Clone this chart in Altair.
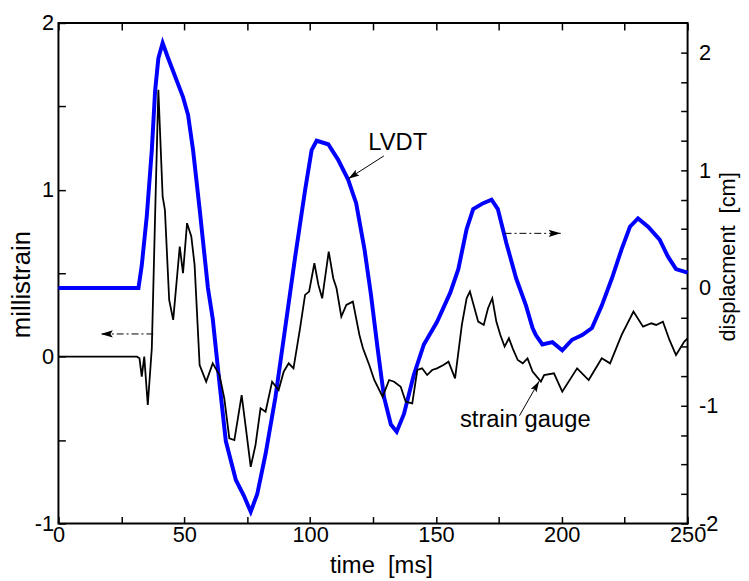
import altair as alt
import pandas as pd

FONT = "Liberation Sans"

# ---- strain gauge (left axis, millistrain) ----
sg_time = [0, 31.2, 32.2, 33.1, 34.1, 35.5, 37.1, 38.4, 39.7, 41.4,
           42.3, 44.0, 45.6, 48.2, 49.5, 51.1, 52.8, 54.1, 56.1, 58.7,
           61.3, 64.0, 65.9, 67.9, 69.9, 72.8, 74.4, 76.4, 78.3, 80.3,
           82.3, 84.9, 87.5, 89.5, 91.5, 93.4, 96.0, 98.0, 99.6, 101.7,
           103.3, 104.8, 107.4, 109.2, 110.5, 112.4, 114.4, 117.0, 119.6, 121.0,
           123.5, 125.5, 128.8, 131.4, 133.4, 136.0, 138.0, 140.6, 142.6, 144.5,
           146.5, 148.5, 150.4, 153.0, 155.0, 157.6, 160.3, 162.2, 163.5, 166.8,
           169.0, 170.7, 172.4, 174.0, 175.6, 177.3, 179.0, 180.5, 182.5, 184.5,
           186.4, 188.4, 191.7, 193.0, 196.9, 200.2, 206.1, 210.7, 215.9, 219.2,
           223.8, 228.5, 232.3, 235.6, 237.5, 240.2, 242.8, 245.4, 248.7, 250]
sg_strain = [0, 0, -0.01, -0.12, 0.0, -0.29, 0.05, 0.84, 1.60, 0.96,
             0.88, 0.34, 0.22, 0.66, 0.50, 0.80, 0.72, 0.55, -0.05, -0.15,
             -0.04, -0.11, -0.25, -0.49, -0.50, -0.23, -0.42, -0.66, -0.53, -0.31,
             -0.33, -0.15, -0.20, -0.09, -0.04, -0.07, 0.17, 0.37, 0.39, 0.56,
             0.43, 0.35, 0.63, 0.47, 0.41, 0.24, 0.31, 0.33, 0.13, 0.05,
             -0.05, -0.14, -0.24, -0.14, -0.15, -0.18, -0.27, -0.28, -0.08, -0.07,
             -0.11, -0.08, -0.07, -0.05, -0.03, -0.13, 0.19, 0.35, 0.39, 0.21,
             0.19, 0.29, 0.35, 0.21, 0.13, 0.06, 0.11, 0.05, -0.02, -0.04,
             -0.01, -0.09, -0.15, -0.11, -0.10, -0.21, -0.07, -0.14, -0.01, -0.04,
             0.13, 0.27, 0.18, 0.20, 0.19, 0.21, 0.10, 0.01, 0.09, 0.11]

# ---- LVDT (right axis, cm) ----
lvdt_time = [0, 31.8, 33.1, 35.1, 37.1, 38.4, 39.7, 41.4, 43.6, 46.3,
             49.5, 51.5, 53.5, 56.1, 59.4, 61.3, 63.9, 66.5, 70.5, 73.8,
             76.4, 79.0, 82.3, 86.2, 90.1, 94.1, 98.0, 100.6, 102.6, 107.2,
             111.1, 115.1, 118.3, 121.6, 124.2, 126.8, 129.4, 132.1, 134.4, 137.3,
             141.2, 145.2, 150.4, 155.7, 158.9, 162.2, 164.8, 168.8, 172.1, 174.6,
             178.0, 181.9, 185.8, 188.4, 189.7, 192.3, 196.3, 200.2, 204.1, 208.1,
             212.0, 215.9, 219.9, 223.8, 227.1, 230.3, 234.3, 238.9, 242.1, 245.4,
             250]
lvdt_disp = [0, 0, 0.19, 0.61, 1.17, 1.67, 1.95, 2.08, 1.95, 1.80,
             1.62, 1.47, 1.17, 0.67, 0.0, -0.26, -0.79, -1.30, -1.63, -1.77,
             -1.90, -1.75, -1.41, -0.93, -0.34, 0.27, 0.83, 1.17, 1.25, 1.22,
             1.09, 0.92, 0.72, 0.33, -0.06, -0.51, -0.93, -1.16, -1.22, -1.07,
             -0.74, -0.48, -0.29, -0.04, 0.16, 0.50, 0.67, 0.72, 0.75, 0.67,
             0.38, 0.08, -0.15, -0.34, -0.40, -0.48, -0.46, -0.53, -0.44, -0.40,
             -0.34, -0.15, 0.08, 0.33, 0.52, 0.59, 0.52, 0.41, 0.27, 0.16,
             0.13]

# ---- tick values ----
x_ticks = [0, 25, 50, 75, 100, 125, 150, 175, 200, 225, 250]
left_ticks = [-1, -0.5, 0, 0.5, 1, 1.5, 2]
right_ticks = [-2, -1.75, -1.5, -1.25, -1, -0.75, -0.5, -0.25, 0, 0.25, 0.5,
               0.75, 1, 1.25, 1.5, 1.75, 2]

# ---- annotations (data units of time / millistrain) ----
label_text = ["LVDT", "strain gauge"]
label_t = [134.8, 185.5]
label_s = [1.239, -0.423]

solid_t = [129.3, 183.2]
solid_s = [1.203, -0.354]
solid_t2 = [115.2, 191.0]
solid_s2 = [1.067, -0.147]

dash_t = [37.7, 177.3]
dash_s = [0.136, 0.739]
dash_t2 = [16.8, 199.6]
dash_s2 = [0.136, 0.739]

sg_df = pd.DataFrame({"t": sg_time, "s": sg_strain})
lv_df = pd.DataFrame({"t": lvdt_time, "d": lvdt_disp})
lab_df = pd.DataFrame({"t": label_t, "s": label_s, "label": label_text})
solid_df = pd.DataFrame({"t": solid_t, "s": solid_s, "t2": solid_t2, "s2": solid_s2})
dash_df = pd.DataFrame({"t": dash_t, "s": dash_s, "t2": dash_t2, "s2": dash_s2})
head_df = pd.DataFrame({
    "t": solid_t2 + dash_t2,
    "s": solid_s2 + dash_s2,
    "ang": [237, 30, 270, 90],
    "sz": [500, 500, 600, 600],
})


def xs():
    return alt.Scale(domain=[0, 250], nice=False, zero=False)


def ss():
    return alt.Scale(domain=[-1, 2], nice=False, zero=False)


TICK = 7
common_axis = dict(domain=False, offset=-TICK, tickSize=TICK, grid=False,
                   labelFlush=False, labelOverlap=False, labelBound=False,
                   labelFont=FONT, labelFontSize=22, labelColor="black",
                   titleFont=FONT, titleFontWeight="normal",
                   titleColor="black", tickColor="black", tickWidth=1.5)

blue = alt.Chart(lv_df).mark_line(color="#0000FF", strokeWidth=4).encode(
    x=alt.X("t:Q", scale=xs(), axis=alt.Axis(
        orient="top", values=x_ticks, labels=False, title=None, **common_axis)),
    y=alt.Y("d:Q", scale=alt.Scale(domain=[-2, 2.25], nice=False, zero=False),
            axis=alt.Axis(
        orient="right", values=right_ticks, title="displacment \u00a0[cm]",
        labelExpr="datum.value % 1 === 0 ? toString(datum.value) : ''",
        titleAngle=-90, titleBaseline="top", titleFontSize=22, titleY=236,
        labelPadding=11, titlePadding=0, **common_axis)),
)

black = alt.Chart(sg_df).mark_line(color="black", strokeWidth=1.8).encode(
    x=alt.X("t:Q", scale=xs(), axis=alt.Axis(
        orient="bottom", values=x_ticks, title="time \u00a0[ms]",
        labelExpr="datum.value % 50 === 0 ? toString(datum.value) : ''",
        titleFontSize=24, titleX=326,
        labelPadding=1, titlePadding=9, **common_axis)),
    y=alt.Y("s:Q", scale=ss(), axis=alt.Axis(
        orient="left", values=left_ticks, title="millistrain",
        labelExpr="datum.value % 1 === 0 ? toString(datum.value) : ''",
        titleFontSize=26, titleY=264,
        labelPadding=5, titlePadding=0, **common_axis)),
)

texts = alt.Chart(lab_df).mark_text(font=FONT, fontSize=24, color="black",
                                    align="center", baseline="alphabetic").encode(
    x=alt.X("t:Q", scale=xs(), axis=None),
    y=alt.Y("s:Q", scale=ss(), axis=None),
    text="label:N",
)

solid = alt.Chart(solid_df).mark_rule(color="black", strokeWidth=1).encode(
    x=alt.X("t:Q", scale=xs(), axis=None), x2="t2:Q",
    y=alt.Y("s:Q", scale=ss(), axis=None), y2="s2:Q",
)

dash = alt.Chart(dash_df).mark_rule(color="black", strokeWidth=1,
                                    strokeDash=[7, 3, 2, 3]).encode(
    x=alt.X("t:Q", scale=xs(), axis=None), x2="t2:Q",
    y=alt.Y("s:Q", scale=ss(), axis=None), y2="s2:Q",
)

heads = alt.Chart(head_df).mark_point(
    shape="M0,0L0.3,1L0,0.8L-0.3,1Z", filled=True, color="black", opacity=1,
    strokeWidth=0).encode(
    x=alt.X("t:Q", scale=xs(), axis=None),
    y=alt.Y("s:Q", scale=ss(), axis=None),
    angle=alt.Angle("ang:Q", scale=None),
    size=alt.Size("sz:Q", scale=None),
)

chart = alt.layer(blue, black, solid, dash, heads, texts).resolve_scale(
    y="independent"
).resolve_axis(
    x="independent"
).properties(
    width=636, height=506,
    padding={"left": 51, "top": 12, "right": 54, "bottom": 55},
    autosize=alt.AutoSizeParams(type="none"),
    background="white",
).configure_view(stroke="black", strokeWidth=2)

chart.save("out.html", embed_options={"renderer": "svg", "actions": False})
